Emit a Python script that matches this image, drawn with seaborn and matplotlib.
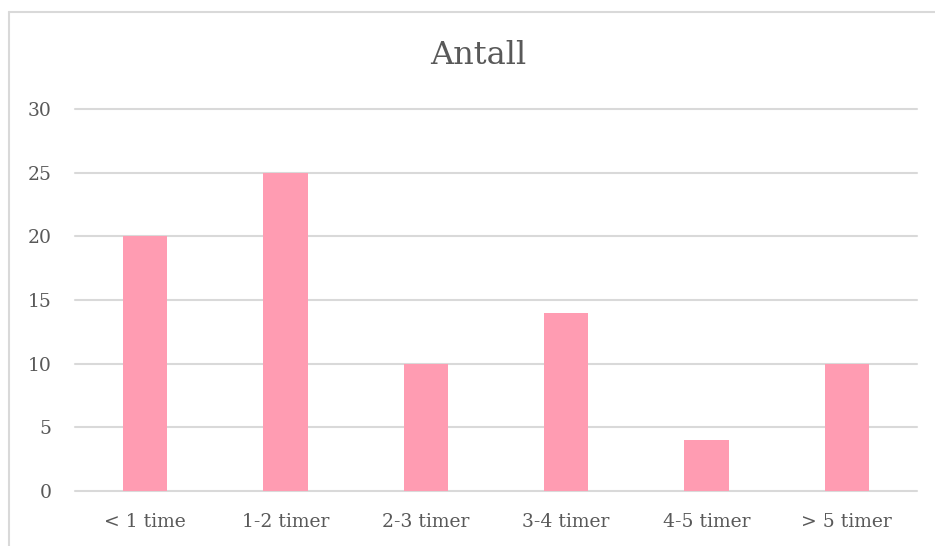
import matplotlib
matplotlib.use("Agg")
import matplotlib.pyplot as plt
from matplotlib.lines import Line2D
import seaborn as sns
import pandas as pd

categories = ["< 1 time", "1-2 timer", "2-3 timer", "3-4 timer", "4-5 timer", "> 5 timer"]
counts = [20, 25, 10, 14, 4, 10]
y_ticks = [0, 5, 10, 15, 20, 25, 30]
title = "Antall"

df = pd.DataFrame({"kategori": categories, "antall": counts})

sns.set_theme(style="white")
plt.rcParams["font.family"] = ["DejaVu Serif"]

W, H = 935, 546
fig = plt.figure(figsize=(W / 100, H / 100), dpi=100)
ax = fig.add_axes([75 / W, 55 / H, (917 - 75) / W, (491 - 109) / H])

sns.barplot(data=df, x="kategori", y="antall", color="#FF9CB2", saturation=1,
            width=0.314, linewidth=0, ax=ax, zorder=3)
ax.set_ylim(0, 30)
ax.set_xlim(-0.5, len(categories) - 0.5)
ax.set_yticks(y_ticks)
ax.yaxis.grid(True, color="#D9D9D9", linewidth=1.5, zorder=0)
ax.xaxis.grid(False)
for gl in ax.get_ygridlines():
    gl.set_clip_on(False)
for s in ax.spines.values():
    s.set_visible(False)
ax.set_xlabel("")
ax.set_ylabel("")
ax.tick_params(axis="both", length=0, labelsize=13.5, labelcolor="#595959")
ax.tick_params(axis="y", pad=17)
ax.tick_params(axis="x", pad=16)

fig.text(478 / W, 1 - 55 / H, title, ha="center", va="center",
         fontsize=23, color="#595959")

# outer chart frame (left and top edges)
frame = "#D9D9D9"
fig.add_artist(Line2D([9 / W, 9 / W], [0, 1 - 12 / H], color=frame, linewidth=1.5,
                      transform=fig.transFigure))
fig.add_artist(Line2D([9 / W, 1], [1 - 12 / H, 1 - 12 / H], color=frame, linewidth=1.5,
                      transform=fig.transFigure))

fig.savefig("out.png", dpi=100, facecolor="white")
